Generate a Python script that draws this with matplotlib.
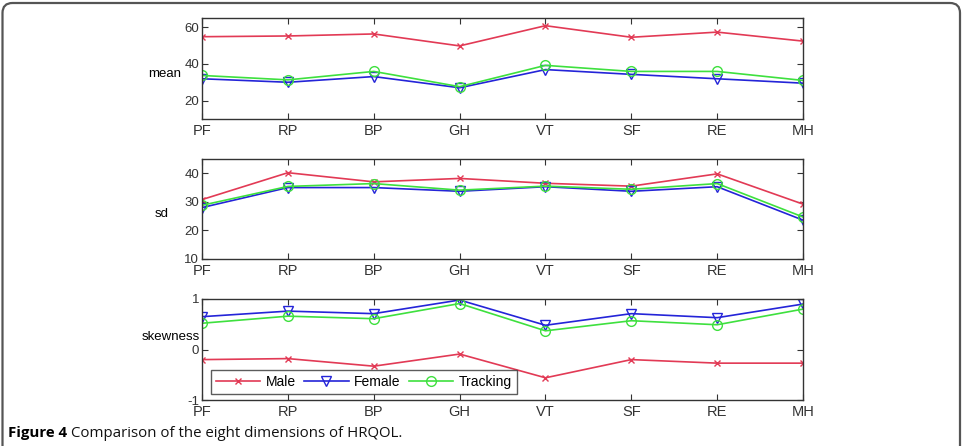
import numpy as np
import matplotlib
matplotlib.use('Agg')
import matplotlib.pyplot as plt
from matplotlib.patches import FancyBboxPatch

plt.rcParams['font.family'] = ['Liberation Sans', 'DejaVu Sans']

dims = ['PF', 'RP', 'BP', 'GH', 'VT', 'SF', 'RE', 'MH']

mean_male = [54.8, 55.2, 56.3, 49.8, 60.8, 54.5, 57.3, 52.4]
mean_female = [31.9, 30.0, 33.1, 27.0, 36.9, 34.3, 31.9, 29.5]
mean_tracking = [33.7, 31.3, 35.9, 27.6, 39.2, 35.9, 35.9, 31.0]

sd_male = [30.8, 40.2, 37.0, 38.2, 36.5, 35.5, 39.8, 29.2]
sd_female = [28.0, 35.0, 35.0, 33.7, 35.3, 33.7, 35.3, 23.6]
sd_tracking = [28.8, 35.4, 36.4, 34.1, 35.5, 34.4, 36.4, 24.7]

skew_male = [-0.20, -0.18, -0.33, -0.09, -0.56, -0.20, -0.27, -0.27]
skew_female = [0.65, 0.76, 0.71, 0.98, 0.48, 0.71, 0.63, 0.90]
skew_tracking = [0.52, 0.66, 0.61, 0.91, 0.37, 0.57, 0.49, 0.80]

c_male = '#e23a55'
c_female = '#2424d8'
c_tracking = '#3ee03e'

fig = plt.figure(figsize=(9.63, 4.46), dpi=100)

# rounded frame round the whole figure
frame = FancyBboxPatch((0.025, -0.2), 9.575, 4.63, boxstyle='round,pad=0,rounding_size=0.1',
                       transform=fig.dpi_scale_trans, fill=False, edgecolor='#555555',
                       linewidth=1.6)
fig.patches.append(frame)

left, width = 0.2098, 0.6241
panels = [
    (0.7332, 0.2265, mean_male, mean_female, mean_tracking, 'mean', (10, 65), [20, 40, 60], (-0.035, 0.45)),
    (0.4193, 0.2242, sd_male, sd_female, sd_tracking, 'sd', (10, 45), [10, 20, 30, 40], (-0.055, 0.45)),
    (0.1031, 0.2265, skew_male, skew_female, skew_tracking, 'skewness', (-1, 1), [-1, 0, 1], (-0.004, 0.62)),
]

x = np.arange(len(dims))
for bottom, height, m, f, t, label, ylim, yticks, lab_pos in panels:
    ax = fig.add_axes([left, bottom, width, height])
    l1, = ax.plot(x, m, color=c_male, marker='x', markersize=4, lw=1.2, label='Male')
    l2, = ax.plot(x, f, color=c_female, marker='v', markersize=7, mfc='none', mew=1.0, lw=1.2, label='Female')
    l3, = ax.plot(x, t, color=c_tracking, marker='o', markersize=7, mfc='none', mew=1.0, lw=1.2, label='Tracking')
    ax.set_xlim(0, len(dims) - 1)
    ax.set_ylim(*ylim)
    ax.set_xticks(x)
    ax.set_xticklabels(dims, fontsize=10.5)
    ax.set_yticks(yticks)
    ax.set_yticklabels([str(v) for v in yticks], fontsize=9.5)
    ax.tick_params(direction='in', length=4, width=0.8, top=True, right=True, pad=2, colors='#333333')
    ax.tick_params(axis='x', pad=3.5)
    for s in ax.spines.values():
        s.set_color('#333333')
        s.set_linewidth(1.0)
    ax.set_ylabel(label, rotation=0, ha='right', va='center', fontsize=9.5)
    ax.yaxis.set_label_coords(*lab_pos)

ax.legend(handles=[l1, l2, l3], ncol=3, loc='lower left', bbox_to_anchor=(0.01, 0.03),
          fontsize=10, frameon=True, fancybox=False, edgecolor='#333333', handlelength=3.2,
          columnspacing=0.6, handletextpad=0.4, borderpad=0.35, borderaxespad=0.2)
ax.get_legend().get_frame().set_linewidth(1.0)

cap_font = ['Open Sans', 'DejaVu Sans']
t1 = fig.text(0.008, 0.02, 'Figure 4', fontsize=10.8, fontweight='bold', family=cap_font,
              ha='left', va='baseline')
fig.canvas.draw()
bb = t1.get_window_extent()
fig.text(bb.x1 / fig.bbox.width + 0.004, 0.02, 'Comparison of the eight dimensions of HRQOL.',
         fontsize=10.8, family=cap_font, ha='left', va='baseline', color='#111111')

fig.savefig('out.png', dpi=100)
